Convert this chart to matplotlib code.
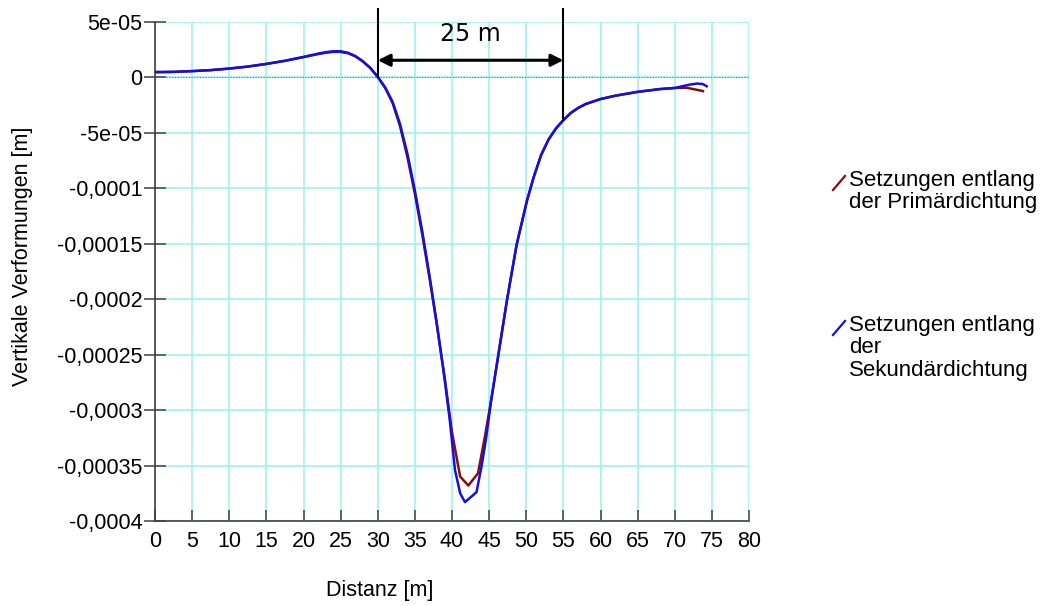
import matplotlib.pyplot as plt
from matplotlib.lines import Line2D
from matplotlib.ticker import FixedLocator, FixedFormatter

# Distanz [m] / vertikale Verformung [1e-5 m] entlang der Primärdichtung
x_prim = [0, 2.5, 5, 7.5, 10, 12.5, 15, 17.5, 20, 21, 22, 23, 24, 25, 26, 27,
          28, 29, 30, 31, 32, 33, 34, 35, 36, 37, 38, 39, 40, 41.1, 42.2, 43.5,
          44.4, 45.3, 46.2, 47.4, 48.7, 50.1, 51, 52, 53, 54, 55, 56, 57, 58,
          60, 62, 65, 68, 70, 71.6, 72.5, 73.8]
y_prim = [0.48, 0.50, 0.57, 0.66, 0.80, 0.98, 1.22, 1.50, 1.83, 1.97, 2.11,
          2.23, 2.30, 2.30, 2.18, 1.90, 1.45, 0.85, 0.05, -0.95, -2.3, -4.4,
          -7.2, -10.5, -14.2, -18.2, -22.5, -27.0, -32.0, -36.0, -36.8, -35.7,
          -32.5, -29.0, -25.2, -20.1, -15.1, -11.1, -9.0, -7.0, -5.6, -4.6,
          -3.85, -3.2, -2.75, -2.4, -1.95, -1.65, -1.3, -1.05, -0.95, -0.93,
          -1.05, -1.23]

# entlang der Sekundärdichtung
x_sek = [0, 2.5, 5, 7.5, 10, 12.5, 15, 17.5, 20, 21, 22, 23, 24, 25, 26, 27,
         28, 29, 30, 31, 32, 33, 34, 35, 36, 37, 38, 39, 39.7, 40.4, 41.1,
         41.75, 43.3, 44.0, 44.6, 45.3, 46.2, 47.4, 48.7, 50.1, 51, 52, 53, 54,
         55, 56, 57, 58, 60, 62, 65, 68, 70, 71, 72, 73, 73.8, 74.3]
y_sek = [0.48, 0.50, 0.57, 0.66, 0.80, 0.98, 1.22, 1.50, 1.85, 2.00, 2.15,
         2.28, 2.36, 2.36, 2.22, 1.92, 1.45, 0.85, 0.05, -0.9, -2.2, -4.2,
         -6.9, -10.2, -13.9, -18.0, -22.4, -27.2, -30.9, -35.4, -37.5, -38.3,
         -37.4, -35.0, -32.5, -29.0, -25.2, -20.1, -15.1, -11.1, -9.0, -7.0,
         -5.6, -4.6, -3.85, -3.2, -2.75, -2.4, -1.95, -1.65, -1.3, -1.05,
         -0.95, -0.8, -0.65, -0.55, -0.6, -0.8]
y_prim = [v * 1e-5 for v in y_prim]
y_sek = [v * 1e-5 for v in y_sek]

x_ticks = list(range(0, 81, 5))
y_ticks = [5e-05, 0, -5e-05, -1e-04, -1.5e-04, -2e-04, -2.5e-04, -3e-04,
           -3.5e-04, -4e-04]
y_ticklabels = ['5e-05', '0', '-5e-05', '-0,0001', '-0,00015', '-0,0002',
                '-0,00025', '-0,0003', '-0,00035', '-0,0004']

# Bemaßung der Setzungsmulde
mark_x = [30, 55]
mark_y = [0.0, -3.85e-05]
span_label = '25 m'

plt.rcParams['font.family'] = ['Liberation Sans', 'DejaVu Sans']
fs = 15.5

fig = plt.figure(figsize=(10.48, 6.06), dpi=100)
ax = fig.add_axes([0.1479, 0.1403, 0.5668, 0.8234])

ax.plot(x_prim, y_prim, color='#8b0a0a', lw=1.8, zorder=3)
ax.plot(x_sek, y_sek, color='#1010e6', lw=1.8, zorder=4)
ax.axhline(0, color='#707070', lw=0.8, ls=(0, (1, 1.5)), zorder=2)

ax.set_xlim(0, 80)
ax.set_ylim(-4e-04, 5e-05)
ax.xaxis.set_major_locator(FixedLocator(x_ticks))
ax.yaxis.set_major_locator(FixedLocator(y_ticks))
ax.yaxis.set_major_formatter(FixedFormatter(y_ticklabels))
ax.grid(True, color='#9ef2f2', lw=1.2, zorder=0)
ax.set_axisbelow(True)

for side in ('top', 'right'):
    ax.spines[side].set_visible(False)
for side in ('left', 'bottom'):
    ax.spines[side].set_color('#404040')
    ax.spines[side].set_linewidth(1.2)

ax.tick_params(axis='y', direction='inout', length=16, width=1.1,
               color='#404040', labelsize=fs, pad=1)
ax.tick_params(axis='x', direction='in', length=8, width=1.1,
               color='#404040', labelsize=fs, pad=7)
ax.set_xlabel('Distanz [m]', fontsize=fs)
ax.set_ylabel('Vertikale Verformungen [m]', fontsize=fs)
ax.xaxis.set_label_coords(0.379, -0.118)
ax.yaxis.set_label_coords(-0.205, 0.531)

# senkrechte Begrenzungslinien und Maßpfeil
for xm, ym in zip(mark_x, mark_y):
    ax.plot([xm, xm], [ym, 6.2e-05], color='black', lw=1.5, clip_on=False,
            zorder=5)
ax.annotate('', xy=(mark_x[0], 1.55e-05), xytext=(mark_x[1], 1.55e-05),
            arrowprops=dict(arrowstyle='<|-|>', color='black', lw=2.2,
                            mutation_scale=18, shrinkA=0, shrinkB=0),
            zorder=6)
ax.text(sum(mark_x) / 2, 3.9e-05, span_label, ha='center', va='center',
        fontsize=17, family='DejaVu Sans', zorder=6)

# Legende rechts neben dem Diagramm
legend_items = [('#8b0a0a', 'Setzungen entlang\nder Primärdichtung', 183),
                ('#1010e6', 'Setzungen entlang\nder\nSekundärdichtung', 328)]
for color, label, ypx in legend_items:
    y0 = 1 - (ypx + 7) / 606
    y1 = 1 - (ypx - 7) / 606
    fig.add_artist(Line2D([833 / 1048, 845 / 1048], [y0, y1], color=color,
                          lw=1.6, transform=fig.transFigure))
    fig.text(849 / 1048, 1 - (ypx - 13) / 606, label, ha='left', va='top',
             fontsize=16, linespacing=1.08)

fig.savefig('out.png', dpi=100)
